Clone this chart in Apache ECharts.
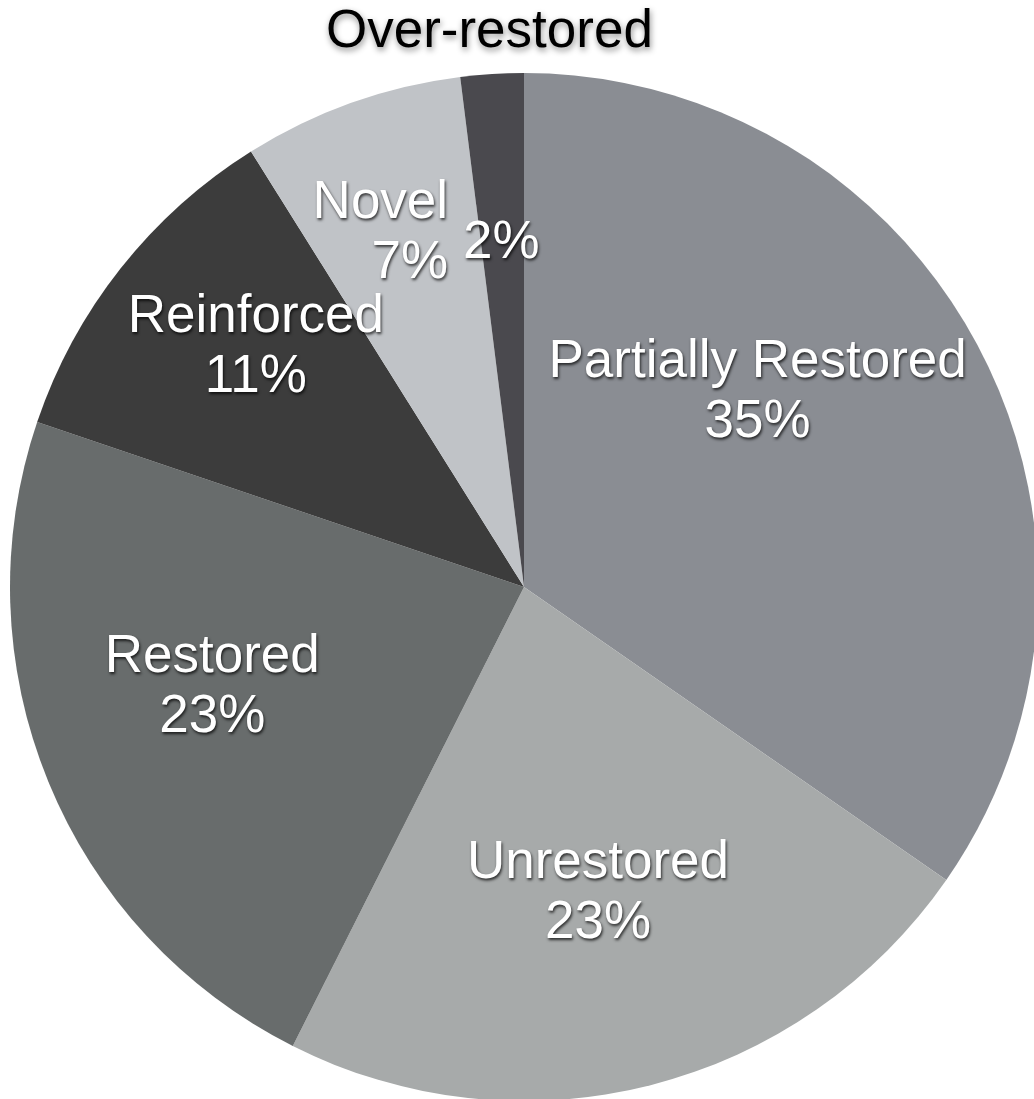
<!DOCTYPE html>
<html>
<head>
<meta charset="utf-8">
<script src="https://cdn.jsdelivr.net/npm/echarts@6/dist/echarts.min.js"></script>
<style>
  html, body { margin: 0; padding: 0; background: #ffffff; }
  #chart { width: 1034px; height: 1099px; }
</style>
</head>
<body>
<div id="chart"></div>
<script>
// Share of sites by restoration outcome (percent)
const categories = ['Partially Restored', 'Unrestored', 'Restored', 'Reinforced', 'Novel', 'Over-restored'];
const shares = [35, 23, 23, 11, 7, 2];
const sliceColors = ['#8a8d93', '#a7aaaa', '#686c6c', '#3c3c3c', '#c0c3c7', '#4a494e'];

// Pie geometry (pixels)
const PIE_CX = 524, PIE_CY = 587, PIE_R = 514;

// Label placement: fraction of the radius, angular nudge from the slice mid-angle (degrees), alignment
const labelPlacement = [
  { r: 0.591, nudge: -12.1, align: 'center' },
  { r: 0.614, nudge: 0.7, align: 'center' },
  { r: 0.637, nudge: 4.5, align: 'center' },
  { r: 0.700, nudge: 3.5, align: 'center' },
  { r: 0.704, nudge: 7.5, align: 'right' },
  { r: 0.669, nudge: -0.2, align: 'center' }
];
const outerNameRadius = 1.082;
const thinSliceShare = 0.05;

const total = shares.reduce((a, b) => a + b, 0);
const midAngles = [];
let acc = 0;
shares.forEach(v => {
  midAngles.push((acc + v / 2) / total * 360);
  acc += v;
});
const isThin = i => shares[i] / total < thinSliceShare;

function polar(fraction, angleDeg) {
  const a = angleDeg * Math.PI / 180;
  return [PIE_CX + fraction * PIE_R * Math.sin(a), PIE_CY - fraction * PIE_R * Math.cos(a)];
}

const FONT = '"Liberation Sans", Helvetica, Arial, sans-serif';

const sliceData = categories.map((name, i) => ({
  name: name,
  value: shares[i],
  itemStyle: { color: sliceColors[i] }
}));

const nameData = categories.map((name, i) => ({
  name: name,
  value: shares[i],
  itemStyle: { color: 'rgba(0,0,0,0)' },
  label: { show: isThin(i) }
}));

const chart = echarts.init(document.getElementById('chart'), null, { renderer: 'canvas' });
chart.setOption({
  animation: false,
  backgroundColor: '#ffffff',
  series: [
    {
      type: 'pie',
      center: [PIE_CX, PIE_CY],
      radius: [0, PIE_R],
      startAngle: 90,
      clockwise: true,
      avoidLabelOverlap: false,
      silent: true,
      emphasis: { disabled: true },
      itemStyle: { borderWidth: 0 },
      label: {
        show: true,
        position: 'inside',
        formatter: p => isThin(p.dataIndex) ? p.value + '%' : p.name + '\n' + p.value + '%',
        color: '#ffffff',
        fontFamily: FONT,
        fontSize: 53,
        lineHeight: 60,
        textShadowColor: 'rgba(0,0,0,0.75)',
        textShadowBlur: 3,
        textShadowOffsetX: 1,
        textShadowOffsetY: 2
      },
      labelLine: { show: false },
      labelLayout: function (params) {
        const i = params.dataIndex;
        const pl = labelPlacement[i];
        const pos = polar(pl.r, midAngles[i] + pl.nudge);
        return { x: pos[0], y: pos[1], align: pl.align, verticalAlign: 'middle' };
      },
      data: sliceData
    },
    {
      type: 'pie',
      center: [PIE_CX, PIE_CY],
      radius: [0, PIE_R],
      startAngle: 90,
      clockwise: true,
      avoidLabelOverlap: false,
      silent: true,
      emphasis: { disabled: true },
      label: {
        position: 'outside',
        formatter: '{b}',
        color: '#000000',
        fontFamily: FONT,
        fontSize: 53,
        textShadowColor: 'rgba(0,0,0,0.45)',
        textShadowBlur: 6,
        textShadowOffsetX: 1,
        textShadowOffsetY: 3
      },
      labelLine: { show: false },
      labelLayout: function (params) {
        const pos = polar(outerNameRadius, midAngles[params.dataIndex]);
        return { x: pos[0], y: pos[1], align: 'center', verticalAlign: 'middle' };
      },
      data: nameData
    }
  ]
});
</script>
</body>
</html>
